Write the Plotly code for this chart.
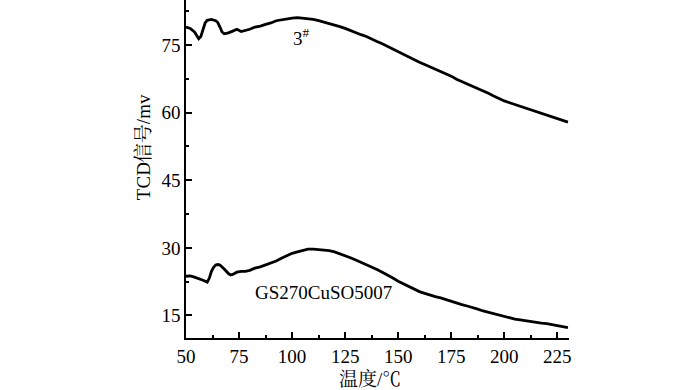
import plotly.graph_objects as go

# Series "3#"
x_top = [50, 52, 54, 55, 56, 57, 58, 59, 60, 62, 64, 65, 66, 67, 68, 70, 72, 74, 76, 78, 80,
         82.5, 85, 87.5, 90, 92.5, 95, 97.5, 100, 102.5, 105, 107.5, 110, 112.5, 115, 117.5,
         120, 122.5, 125, 127.5, 130, 132.5, 135, 137.5, 140, 142.5, 145, 147.5, 150, 152.5,
         155, 157.5, 160, 162.5, 165, 167.5, 170, 172.5, 175, 177.5, 180, 182.5, 185, 187.5,
         190, 192.5, 195, 197.5, 200, 202.5, 205, 207.5, 210, 212.5, 215, 217.5, 220, 222.5,
         225, 227.5, 230]
y_top = [79.0, 78.7, 77.9, 77.2, 76.4, 76.9, 78.6, 79.9, 80.5, 80.7, 80.4, 80.0, 79.0, 77.9,
         77.5, 77.7, 78.1, 78.5, 78.0, 78.2, 78.5,
         79.0, 79.2, 79.6, 79.9, 80.4, 80.6, 80.9, 81.0, 81.1, 81.0, 80.9, 80.7, 80.4, 80.1,
         79.8, 79.5, 79.1, 78.7, 78.2, 77.8, 77.3, 76.9, 76.3, 75.8, 75.3, 74.7, 74.1, 73.5,
         73.0, 72.4, 71.8, 71.2, 70.7, 70.2, 69.7, 69.1, 68.6, 68.1, 67.4, 66.9, 66.4, 65.9,
         65.4, 64.9, 64.3, 63.7, 63.1, 62.6, 62.2, 61.8, 61.5, 61.1, 60.7, 60.3, 59.9, 59.5,
         59.1, 58.7, 58.3, 57.9]

# Series "GS270CuSO5007"
x_bot = [50, 52, 54, 56, 58, 60, 61, 62, 63, 64, 65, 66, 67, 68, 70, 71, 72, 74, 76, 78, 80,
         82.5, 85, 87.5, 90, 92.5, 95, 97.5, 100, 102.5, 105, 107.5, 110, 112.5, 115, 117.5,
         120, 122.5, 125, 127.5, 130, 132.5, 135, 137.5, 140, 142.5, 145, 147.5, 150, 152.5,
         155, 157.5, 160, 162.5, 165, 167.5, 170, 172.5, 175, 177.5, 180, 182.5, 185, 187.5,
         190, 192.5, 195, 197.5, 200, 202.5, 205, 207.5, 210, 212.5, 215, 217.5, 220, 222.5,
         225, 227.5, 230]
y_bot = [23.7, 23.8, 23.5, 23.2, 22.8, 22.4, 23.3, 24.8, 25.7, 26.2, 26.3, 26.2, 25.8, 25.3,
         24.3, 24.0, 24.1, 24.6, 24.8, 24.8, 25.0,
         25.5, 25.8, 26.2, 26.7, 27.1, 27.7, 28.3, 28.8, 29.1, 29.4, 29.7, 29.7, 29.6, 29.6,
         29.4, 29.1, 28.7, 28.3, 27.8, 27.3, 26.8, 26.3, 25.8, 25.2, 24.6, 24.0, 23.3, 22.6,
         22.0, 21.4, 20.8, 20.3, 19.9, 19.5, 19.2, 18.9, 18.5, 18.1, 17.8, 17.4, 17.1, 16.8,
         16.4, 16.0, 15.7, 15.3, 15.0, 14.7, 14.4, 14.2, 14.0, 13.8, 13.6, 13.5, 13.3, 13.2,
         13.0, 12.8, 12.5, 12.3]

x_ticks = [50, 75, 100, 125, 150, 175, 200, 225]
y_ticks = [15, 30, 45, 60, 75]

FONT = "Liberation Serif, Times New Roman, Noto Serif CJK SC, Noto Sans CJK SC, serif"

fig = go.Figure()
fig.add_trace(go.Scatter(x=x_top, y=y_top, mode="lines", name="3#",
                         line=dict(color="black", width=2.8)))
fig.add_trace(go.Scatter(x=x_bot, y=y_bot, mode="lines", name="GS270CuSO5007",
                         line=dict(color="black", width=2.8)))

axis_common = dict(showline=True, linecolor="black", linewidth=1.6, ticks="inside",
                   ticklen=6, tickwidth=1.5, tickcolor="black", showgrid=False,
                   zeroline=False, mirror=False,
                   tickfont=dict(family=FONT, size=19, color="black"))

fig.update_xaxes(range=[50, 230.5], tickvals=x_ticks,
                 minor=dict(ticks="inside", ticklen=3, tickwidth=1.5, tickcolor="black",
                            dtick=12.5, tick0=50),
                 **axis_common)
fig.update_yaxes(range=[10, 85], tickvals=y_ticks,
                 minor=dict(ticks="inside", ticklen=3, tickwidth=1.5, tickcolor="black",
                            dtick=7.5, tick0=15),
                 **axis_common)

fig.add_annotation(x=104.5, y=76.8, xref="x", yref="y", text="3<sup>#</sup>",
                   showarrow=False, xanchor="center", yanchor="middle",
                   font=dict(family=FONT, size=19, color="black"))
fig.add_annotation(x=114.6, y=20.1, xref="x", yref="y", text="GS270CuSO5007",
                   showarrow=False, xanchor="center", yanchor="middle",
                   font=dict(family=FONT, size=19, color="black"))
fig.add_annotation(x=-0.112, y=0.565, xref="paper", yref="paper", text="TCD信号/mv",
                   textangle=-90, showarrow=False, xanchor="center", yanchor="middle",
                   font=dict(family=FONT, size=19, color="black"))
fig.add_annotation(x=0.48, y=-0.124, xref="paper", yref="paper", text="温度/℃",
                   showarrow=False, xanchor="center", yanchor="middle",
                   font=dict(family=FONT, size=19, color="black"))

fig.update_layout(width=700, height=390, margin=dict(l=186, r=131, t=0, b=52),
                  paper_bgcolor="white", plot_bgcolor="white", showlegend=False,
                  font=dict(family=FONT, size=19, color="black"))

fig.write_html("out.html", config={"displayModeBar": False},
               post_script="document.body.style.margin='0';")
